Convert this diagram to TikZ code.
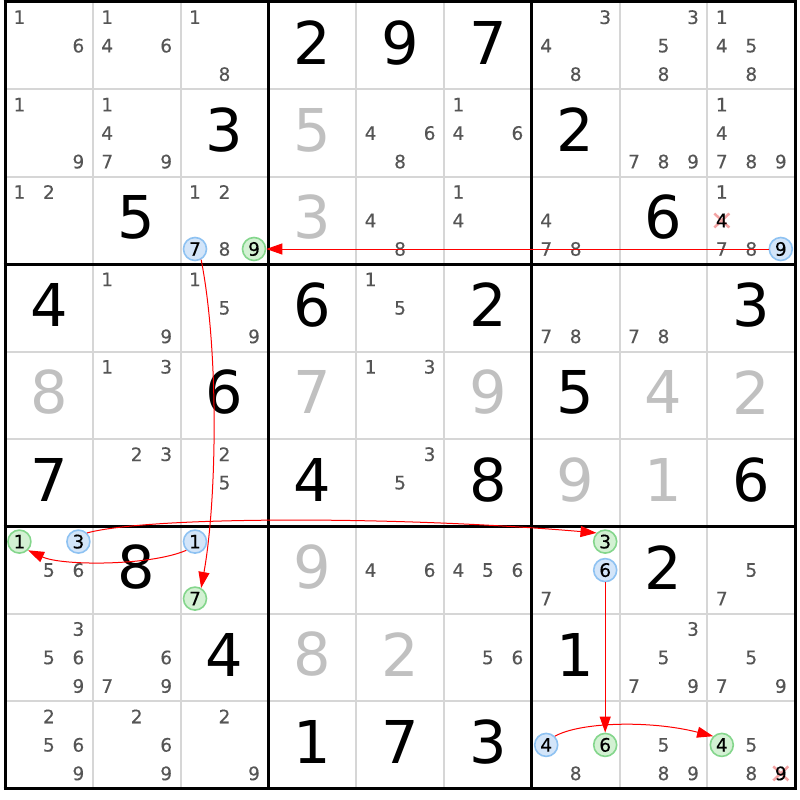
\documentclass[tikz,border=0pt]{standalone}
\usepackage{fontspec}
\setmainfont{DejaVu Sans}
\newfontfamily\candfont[FakeBold=0.3]{DejaVu Sans}
\usetikzlibrary{arrows.meta}
\definecolor{candgray}{HTML}{555555}
\definecolor{givgray}{HTML}{C0C0C0}
\definecolor{gridgray}{HTML}{D6D6D6}
\definecolor{bluefill}{HTML}{D3E5F9}
\definecolor{blueline}{HTML}{8EC2F2}
\definecolor{greenfill}{HTML}{D3F1D3}
\definecolor{greenline}{HTML}{84D68C}
\definecolor{xpink}{HTML}{F4A4A4}
\definecolor{arrred}{HTML}{FF0000}
\tikzset{
  cand/.style={font=\candfont\fontsize{18.5}{18.5}\selectfont, text=candgray, inner sep=0pt},
  given/.style={font=\fontsize{59}{59}\selectfont, text=black, inner sep=0pt},
  givengray/.style={given, text=givgray},
  bluec/.style={circle, draw=blueline, fill=bluefill, line width=1.6pt, minimum size=23pt, text=black},
  greenc/.style={circle, draw=greenline, fill=greenfill, line width=1.6pt, minimum size=23pt, text=black},
  xmark/.style={draw=xpink, line width=2.5pt},
  thinline/.style={draw=gridgray, line width=2pt},
  thickline/.style={draw=black, line width=3pt},
  arr/.style={draw=arrred, line width=1pt, -{Triangle[length=16pt,width=11pt]}}
}
\newcommand\CandAt[4][cand]{\node[#1] (k#2#3#4) at ({5+(#3-0.5)*87.8+(mod(#4-1,3)-1)*29.5},{2+(#2-0.5)*87.4+(floor((#4-1)/3)-1)*28.5}) {#4};}
\newcommand\Cands[3]{\foreach \d in {#3}{\CandAt{#1}{#2}{\d}}}
\newcommand\Given[4][given]{\node[#1] (g#2#3) at ({5+(#3-0.5)*87.8},{2+(#2-0.5)*87.4-3}) {#4};}
\newcommand\Circ[4]{\node[cand,#1] (p#2#3#4) at ({5+(#3-0.5)*87.8+(mod(#4-1,3)-1)*29.5},{2+(#2-0.5)*87.4+(floor((#4-1)/3)-1)*28.5}) {#4};}
\newcommand\Struck[3]{%
  \begin{scope}[shift={({5+(#2-0.5)*87.8+(mod(#3-1,3)-1)*29.5},{2+(#1-0.5)*87.4+(floor((#3-1)/3)-1)*28.5})}]
    \draw[xmark] (-7.5,-7) -- (7.5,7) (-7.5,7) -- (7.5,-7);
  \end{scope}
  \CandAt[cand,text=black]{#1}{#2}{#3}}
\begin{document}
\begin{tikzpicture}[x=1pt,y=-1pt]
\useasboundingbox (0,0) rectangle (800,800);
\fill[white] (0,0) rectangle (800,800);
% grid
\foreach \i in {1,2,4,5,7,8}{
  \draw[thinline] ({5+\i*87.8},2) -- ({5+\i*87.8},788.6);
  \draw[thinline] (5,{2+\i*87.4}) -- (795.2,{2+\i*87.4});
}
\foreach \i in {0,3,6,9}{
  \draw[thickline] ({5+\i*87.8},0.5) -- ({5+\i*87.8},790.1);
  \draw[thickline] (3.5,{2+\i*87.4}) -- (796.7,{2+\i*87.4});
}
% givens
\Given{1}{4}{2}\Given{1}{5}{9}\Given{1}{6}{7}
\Given{2}{3}{3}\Given[givengray]{2}{4}{5}\Given{2}{7}{2}
\Given{3}{2}{5}\Given[givengray]{3}{4}{3}\Given{3}{8}{6}
\Given{4}{1}{4}\Given{4}{4}{6}\Given{4}{6}{2}\Given{4}{9}{3}
\Given[givengray]{5}{1}{8}\Given{5}{3}{6}\Given[givengray]{5}{4}{7}\Given[givengray]{5}{6}{9}\Given{5}{7}{5}\Given[givengray]{5}{8}{4}\Given[givengray]{5}{9}{2}
\Given{6}{1}{7}\Given{6}{4}{4}\Given{6}{6}{8}\Given[givengray]{6}{7}{9}\Given[givengray]{6}{8}{1}\Given{6}{9}{6}
\Given{7}{2}{8}\Given[givengray]{7}{4}{9}\Given{7}{8}{2}
\Given{8}{3}{4}\Given[givengray]{8}{4}{8}\Given[givengray]{8}{5}{2}\Given{8}{7}{1}
\Given{9}{4}{1}\Given{9}{5}{7}\Given{9}{6}{3}
% candidates
\Cands{1}{1}{1,6}\Cands{1}{2}{1,4,6}\Cands{1}{3}{1,8}\Cands{1}{7}{3,4,8}\Cands{1}{8}{3,5,8}\Cands{1}{9}{1,4,5,8}
\Cands{2}{1}{1,9}\Cands{2}{2}{1,4,7,9}\Cands{2}{5}{4,6,8}\Cands{2}{6}{1,4,6}\Cands{2}{8}{7,8,9}\Cands{2}{9}{1,4,7,8,9}
\Cands{3}{1}{1,2}\Cands{3}{3}{1,2,8}\Cands{3}{5}{4,8}\Cands{3}{6}{1,4}\Cands{3}{7}{4,7,8}\Cands{3}{9}{1,7,8}
\Cands{4}{2}{1,9}\Cands{4}{3}{1,5,9}\Cands{4}{5}{1,5}\Cands{4}{7}{7,8}\Cands{4}{8}{7,8}
\Cands{5}{2}{1,3}\Cands{5}{5}{1,3}
\Cands{6}{2}{2,3}\Cands{6}{3}{2,5}\Cands{6}{5}{3,5}
\Cands{7}{1}{5,6}\Cands{7}{5}{4,6}\Cands{7}{6}{4,5,6}\Cands{7}{7}{7}\Cands{7}{9}{5,7}
\Cands{8}{1}{3,5,6,9}\Cands{8}{2}{6,7,9}\Cands{8}{6}{5,6}\Cands{8}{8}{3,5,7,9}\Cands{8}{9}{5,7,9}
\Cands{9}{1}{2,5,6,9}\Cands{9}{2}{2,6,9}\Cands{9}{3}{2,9}\Cands{9}{7}{8}\Cands{9}{8}{5,8,9}\Cands{9}{9}{5,8}
% struck candidates
\Struck{3}{9}{4}
\Struck{9}{9}{9}
% circled candidates
\Circ{bluec}{3}{3}{7}\Circ{greenc}{3}{3}{9}\Circ{bluec}{3}{9}{9}
\Circ{greenc}{7}{1}{1}\Circ{bluec}{7}{1}{3}
\Circ{bluec}{7}{3}{1}\Circ{greenc}{7}{3}{7}
\Circ{greenc}{7}{7}{3}\Circ{bluec}{7}{7}{6}
\Circ{bluec}{9}{7}{4}\Circ{greenc}{9}{7}{6}
\Circ{greenc}{9}{9}{4}
% links
\draw[arr] (p399.west) -- (p339.east);
\draw[arr] (p337.-60) .. controls (219,350) and (217,500) .. (p737.60);
\draw[arr] (p731.-135) .. controls (150,566) and (62,566) .. (p711.-45);
\draw[arr] (p713.45) .. controls (150,516) and (400,516) .. (p773.135);
\draw[arr] (p776.south) -- (p976.north);
\draw[arr] (p974.45) .. controls (580,722) and (650,720) .. (p994.135);
\end{tikzpicture}
\end{document}
